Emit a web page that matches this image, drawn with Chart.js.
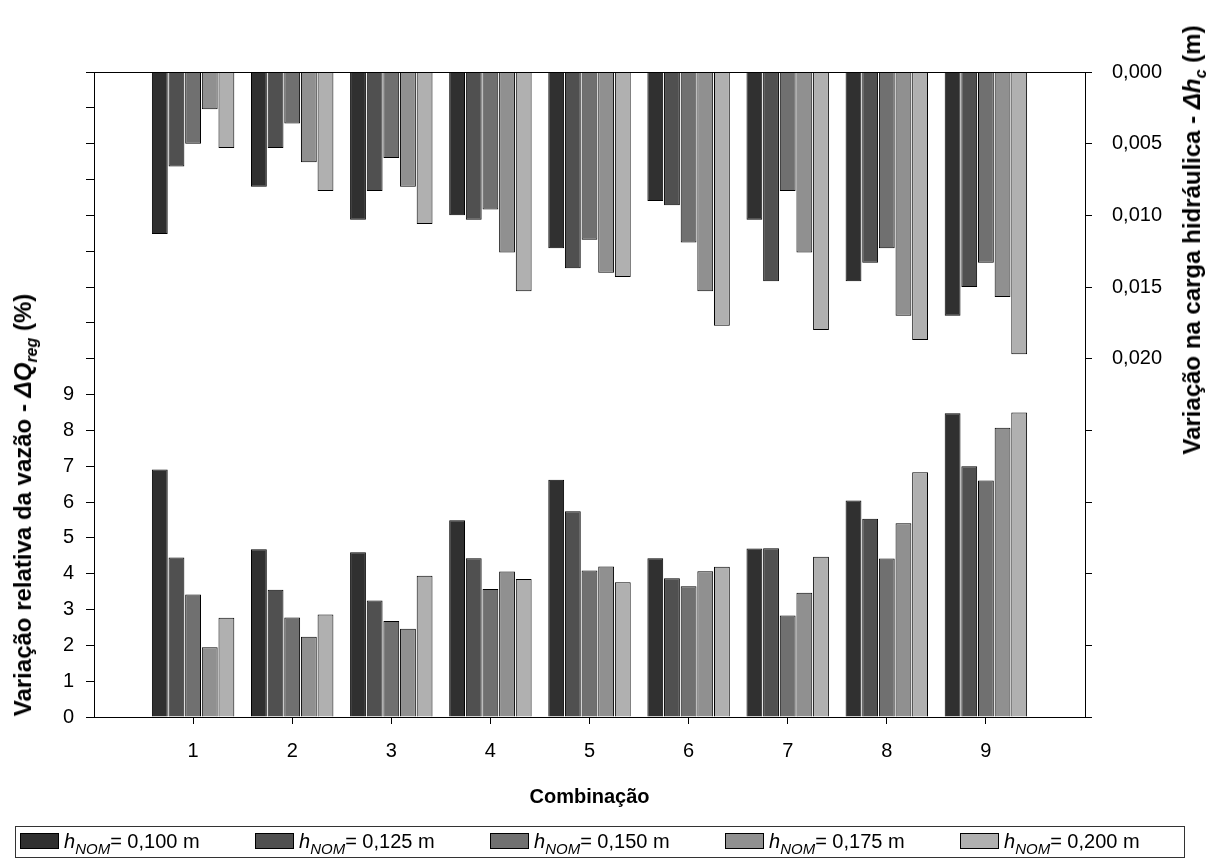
<!DOCTYPE html>
<html lang="pt">
<head>
<meta charset="UTF-8">
<title>Variação relativa da vazão e da carga hidráulica</title>
<script src="https://cdn.jsdelivr.net/npm/chart.js"></script>
<style>
	body { margin: 0; background: #fff; font-family: "Liberation Sans", Arial, sans-serif; color: #000; }
	#wrap { position: relative; width: 1218px; height: 861px; }
	.ytitle { position: absolute; font-weight: bold; font-size: 24px; white-space: nowrap; transform: translate(-50%, -50%) rotate(-90deg); }
	.ytitle i { font-style: italic; }
	.ytitle sub { font-size: 16px; vertical-align: -6px; line-height: 0; }
	#legend { position: absolute; left: 15px; top: 826px; width: 1170px; height: 32px; border: 1px solid #333; box-sizing: border-box; }
	.item { position: absolute; top: 3px; font-size: 20px; white-space: nowrap; }
	.item sub { font-size: 15px; vertical-align: -6px; line-height: 0; }
	.sw { display: inline-block; width: 37px; height: 14px; border: 1px solid #000; margin-right: 5px; vertical-align: -1px; }
</style>
</head>
<body>
<div id="wrap">
	<canvas id="chart" width="1218" height="861"></canvas>
	<div class="ytitle" style="left:23px; top:505px;">Variação relativa da vazão - <i>ΔQ<sub>reg</sub></i> (%)</div>
	<div class="ytitle" style="left:1192px; top:240px;">Variação na carga hidráulica - <i>Δh<sub>c</sub></i> (m)</div>
	<div id="legend"></div>
</div>
<script>
	// combinations 1..9
	const combinations = ['1', '2', '3', '4', '5', '6', '7', '8', '9'];
	const hNom = ['0,100', '0,125', '0,150', '0,175', '0,200'];
	const colors = ['#303030', '#505050', '#707070', '#909090', '#b0b0b0'];

	// relative flow variation, dQreg (%) - left axis
	const dQ_100 = [6.91, 4.68, 4.60, 5.49, 6.62, 4.43, 4.70, 6.04, 8.48];
	const dQ_125 = [4.45, 3.55, 3.25, 4.43, 5.74, 3.87, 4.71, 5.53, 7.00];
	const dQ_150 = [3.42, 2.78, 2.68, 3.57, 4.09, 3.65, 2.83, 4.42, 6.60];
	const dQ_175 = [1.95, 2.24, 2.46, 4.06, 4.20, 4.07, 3.47, 5.41, 8.07];
	const dQ_200 = [2.77, 2.86, 3.94, 3.85, 3.76, 4.19, 4.47, 6.83, 8.50];

	// hydraulic head variation, dhc (m) - right axis (reversed)
	const dh_100 = [0.0113, 0.0080, 0.0103, 0.0100, 0.0123, 0.0090, 0.0103, 0.0146, 0.0170];
	const dh_125 = [0.0066, 0.0053, 0.0083, 0.0103, 0.0137, 0.0093, 0.0146, 0.0133, 0.0150];
	const dh_150 = [0.0050, 0.0036, 0.0060, 0.0096, 0.0117, 0.0119, 0.0083, 0.0123, 0.0133];
	const dh_175 = [0.0026, 0.0063, 0.0080, 0.0126, 0.0140, 0.0153, 0.0126, 0.0170, 0.0157];
	const dh_200 = [0.0053, 0.0083, 0.0106, 0.0153, 0.0143, 0.0177, 0.0180, 0.0187, 0.0197];

	const flowSeries = [dQ_100, dQ_125, dQ_150, dQ_175, dQ_200];
	const headSeries = [dh_100, dh_125, dh_150, dh_175, dh_200];

	// empty slot on each side, like the original axis
	const labels = [''].concat(combinations, ['']);
	function pad(arr) { return [null].concat(arr, [null]); }

	const datasets = [];
	for(let i = 0; i < 5; i++) {
		datasets.push({
			label: 'hNOM = ' + hNom[i] + ' m (ΔQreg)',
			data: pad(flowSeries[i]),
			yAxisID: 'yQ',
			stack: 's' + i,
			backgroundColor: colors[i],
			borderColor: '#000',
			borderWidth: 1,
		});
		datasets.push({
			label: 'hNOM = ' + hNom[i] + ' m (Δhc)',
			data: pad(headSeries[i]),
			yAxisID: 'yH',
			stack: 's' + i,
			backgroundColor: colors[i],
			borderColor: '#000',
			borderWidth: 1,
		});
	}

	const frame = {
		id: 'frame',
		afterDraw(chart) {
			const {ctx, chartArea: a} = chart;
			ctx.save();
			ctx.strokeStyle = '#000';
			ctx.lineWidth = 1;
			ctx.strokeRect(a.left + 0.5, a.top + 0.5, a.right - a.left, a.bottom - a.top);
			ctx.restore();
		}
	};

	const tickFont = { family: '"Liberation Sans", Arial, sans-serif', size: 20 };

	new Chart(document.getElementById('chart'), {
		type: 'bar',
		data: { labels: labels, datasets: datasets },
		plugins: [frame],
		options: {
			responsive: false,
			animation: false,
			devicePixelRatio: 1,
			categoryPercentage: 0.84,
			barPercentage: 0.95,
			layout: { padding: { top: 72, left: 0, right: 0, bottom: 0 } },
			plugins: { legend: { display: false }, tooltip: { enabled: false } },
			scales: {
				x: {
					offset: false,
					grid: {
						offset: false,
						drawOnChartArea: false,
						tickLength: 7,
						color: (c) => (c.index === 0 || c.index === labels.length - 1) ? 'rgba(0,0,0,0)' : '#000'
					},
					border: { color: '#000' },
					ticks: { color: '#000', font: tickFont, padding: 15, autoSkip: false, maxRotation: 0 },
					title: {
						display: true,
						text: 'Combinação',
						color: '#000',
						font: { family: '"Liberation Sans", Arial, sans-serif', size: 20, weight: 'bold' },
						padding: { top: 0, bottom: 52 }
					},
					afterFit(s) { s.height = 144; }
				},
				yQ: {
					position: 'left',
					min: 0,
					max: 18,
					grid: { drawOnChartArea: false, tickLength: 8, color: '#000' },
					border: { color: '#000' },
					ticks: {
						stepSize: 1,
						color: '#000',
						font: tickFont,
						padding: 12,
						callback: (v) => v <= 9 ? String(v) : ''
					},
					afterFit(s) { s.width = 94; }
				},
				yH: {
					position: 'right',
					reverse: true,
					min: 0,
					max: 0.045,
					grid: { drawOnChartArea: false, tickLength: 7, color: '#000' },
					border: { color: '#000' },
					ticks: {
						stepSize: 0.005,
						color: '#000',
						font: tickFont,
						padding: 20,
						callback: (v) => v <= 0.0201 ? v.toFixed(3).replace('.', ',') : ''
					},
					afterFit(s) { s.width = 133; }
				}
			}
		}
	});

	// legend with subscripts, built from the series names
	const legend = document.getElementById('legend');
	hNom.forEach((h, i) => {
		const item = document.createElement('div');
		item.className = 'item';
		item.style.left = (4 + i * 235) + 'px';
		item.innerHTML = '<span class="sw" style="background:' + colors[i] + '"></span><i>h<sub>NOM</sub></i>= ' + h + ' m';
		legend.appendChild(item);
	});
</script>
</body>
</html>
